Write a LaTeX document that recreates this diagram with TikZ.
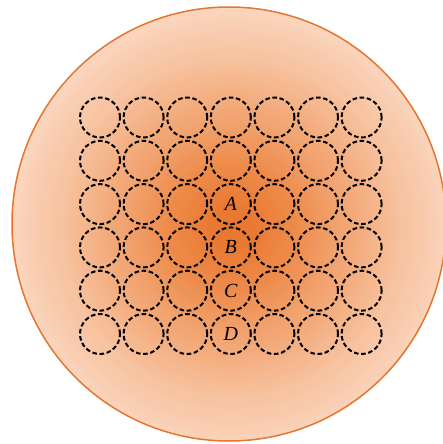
\documentclass[tikz,border=0pt]{standalone}
\usepackage{fontspec}
\setmainfont{Liberation Serif}
\definecolor{rimorange}{RGB}{228,118,48}
\definecolor{stopa}{RGB}{233,120,48}
\definecolor{stopb}{RGB}{237,136,70}
\definecolor{stopc}{RGB}{242,166,116}
\definecolor{stopd}{RGB}{247,195,160}
\definecolor{stope}{RGB}{251,218,198}
\newcommand{\ringseg}[4]{%
  \foreach \k in {#1,...,#2}{%
    \pgfmathtruncatemacro{\mixp}{100*(\k-#2)/(#1-#2)}%
    \colorlet{ringc}{#3!\mixp!#4}%
    \fill[ringc] (gc) circle ({2.32*\k});%
  }}
\tikzset{
  cell/.style={circle, draw=black, line width=2pt, dash pattern=on 4.6pt off 2.6pt,
    minimum size=40pt, inner sep=0pt},
  lab/.style={font=\fontsize{20}{20}\selectfont\itshape},
  rim/.style={draw=rimorange, line width=1.5pt}
}
\begin{document}
\begin{tikzpicture}[x=1pt,y=-1pt]
\useasboundingbox (0,0) rectangle (443,444);
\coordinate (dc) at (229,224);
\coordinate (gc) at (232,228);
\begin{scope}
  \clip (dc) circle (217);
  \ringseg{100}{75}{stope}{stopd}
  \ringseg{74}{50}{stopd}{stopc}
  \ringseg{49}{25}{stopc}{stopb}
  \ringseg{24}{8}{stopb}{stopa}
  \fill[stopa] (gc) circle (18.5);
\end{scope}
\draw[rim] (dc) circle (217);
\foreach \r in {1,...,6}{
  \foreach \c in {1,...,7}{
    \pgfmathsetmacro{\xx}{100+43.6*(\c-1)}
    \pgfmathsetmacro{\yy}{117.5+43.3*(\r-1)}
    \node[cell] (c\r\c) at (\xx,\yy) {};
  }
}
\node[lab] (labA) at (c34) {A};
\node[lab] (labB) at (c44) {B};
\node[lab] (labC) at (c54) {C};
\node[lab] (labD) at (c64) {D};
\end{tikzpicture}
\end{document}
